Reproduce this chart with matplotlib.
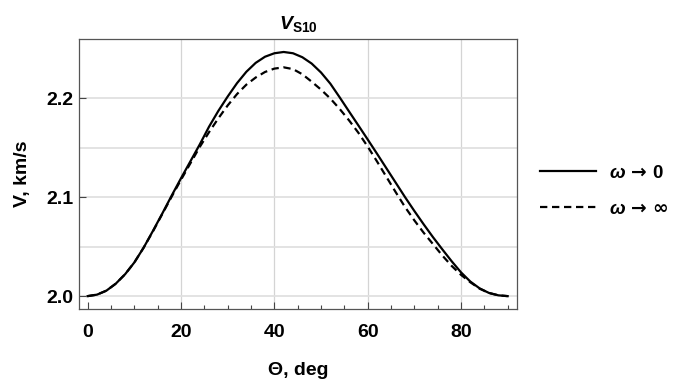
import matplotlib
matplotlib.use("Agg")
import matplotlib.pyplot as plt
import numpy as np

plt.rcParams['font.family'] = ['Liberation Sans', 'DejaVu Sans']
plt.rcParams['font.weight'] = 'bold'
plt.rcParams['mathtext.fontset'] = 'custom'
plt.rcParams['mathtext.it'] = 'Liberation Sans:italic:bold'
plt.rcParams['mathtext.rm'] = 'Liberation Sans:bold'
plt.rcParams['mathtext.sf'] = 'DejaVu Sans:bold'

# angle, deg
theta = [0, 2, 4, 6, 8, 10, 12, 14, 16, 18, 20, 22, 24, 26, 28, 30,
         32, 34, 36, 38, 40, 42, 44, 46, 48, 50, 52, 54, 56, 58, 60,
         62, 64, 66, 68, 70, 72, 74, 76, 78, 80, 82, 84, 86, 88, 90]
# omega -> 0 (solid), km/s
v_low = [2.0000, 2.0015, 2.0055, 2.0125, 2.0220, 2.0340, 2.0490, 2.0660,
         2.0835, 2.1015, 2.1190, 2.1360, 2.1530, 2.1710, 2.1870, 2.2015,
         2.2150, 2.2265, 2.2355, 2.2417, 2.2452, 2.2465, 2.2452, 2.2412,
         2.2348, 2.2258, 2.2145, 2.2007, 2.1865, 2.1724, 2.1582, 2.1438,
         2.1292, 2.1146, 2.1000, 2.0860, 2.0725, 2.0595, 2.0472, 2.0352,
         2.0240, 2.0147, 2.0078, 2.0032, 2.0008, 2.0000]
# omega -> inf (dashed), km/s
v_high = [2.0000, 2.0015, 2.0055, 2.0125, 2.0220, 2.0340, 2.0490, 2.0655,
          2.0830, 2.1005, 2.1175, 2.1340, 2.1505, 2.1655, 2.1795, 2.1925,
          2.2040, 2.2135, 2.2207, 2.2263, 2.2297, 2.2310, 2.2292, 2.2240,
          2.2165, 2.2085, 2.1995, 2.1890, 2.1775, 2.1650, 2.1510, 2.1360,
          2.1205, 2.1050, 2.0900, 2.0765, 2.0640, 2.0525, 2.0410, 2.0305,
          2.0215, 2.0140, 2.0075, 2.0032, 2.0008, 2.0000]

fig = plt.figure(figsize=(6.82, 3.83), dpi=100)
ax = fig.add_axes([79/682, 74/383, 438/682, 270/383])

for gx in [20, 40, 60, 80]:
    ax.axvline(gx, color='#d4d4d4', lw=0.9, zorder=0)
for gy in [2.0, 2.05, 2.1, 2.15, 2.2]:
    ax.axhline(gy, color='#e0e0e0', lw=1.3, zorder=0)

ax.plot(theta, v_low, color='black', lw=1.6,
        label=r'$\omega\,\mathsf{\rightarrow}\,0$')
ax.plot(theta, v_high, color='black', lw=1.6, ls=(0, (3.3, 2.1)),
        label=r'$\omega\,\mathsf{\rightarrow}\,\mathsf{\infty}$')

ax.set_xlim(-1.86, 92.0)
ax.set_ylim(1.987, 2.2596)
ax.set_xticks([0, 20, 40, 60, 80])
ax.set_xticks(np.arange(0, 91, 5), minor=True)
ax.set_yticks([2.0, 2.1, 2.2])
ax.set_yticklabels(['2.0', '2.1', '2.2'])
ax.tick_params(axis='x', which='major', direction='in', length=5, width=0.8,
               pad=11, labelsize=14, color='#444444')
ax.tick_params(axis='x', which='minor', direction='in', length=3, width=0.8,
               color='#444444')
ax.tick_params(axis='y', direction='in', length=5, width=0.8, pad=4,
               labelsize=14, color='#444444')
for sp in ax.spines.values():
    sp.set_color('#555555')
    sp.set_linewidth(0.9)

ax.set_xlabel('Θ, deg', fontsize=14, fontweight='bold', labelpad=15)
ax.set_ylabel('V, km/s', fontsize=14, fontweight='bold', labelpad=11)
ax.set_title(r'$V_{\mathrm{S10}}$', fontsize=14, pad=7)

ax.legend(loc='center left', bbox_to_anchor=(1.0525, 0.437), frameon=False,
          borderaxespad=0, borderpad=0, handlelength=3.0, handletextpad=0.7,
          labelspacing=1.0, prop={'size': 13.5, 'weight': 'bold'})

fig.savefig('out.png', dpi=100)
